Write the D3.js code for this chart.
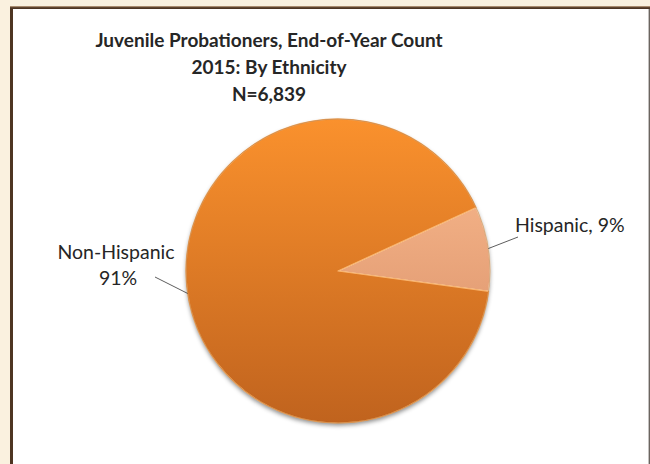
<!DOCTYPE html>
<html>
<head>
<meta charset="utf-8">
<script src="https://cdn.jsdelivr.net/npm/d3@7/dist/d3.min.js"></script>
<style>
  html, body { margin: 0; padding: 0; background: #FAF1DF; }
  svg { display: block; }
  text { font-family: Lato, "Open Sans", sans-serif; fill: #262626; }
</style>
</head>
<body>
<svg id="chart" width="650" height="464"></svg>
<script>
// Chart data
const categories = ["Hispanic", "Non-Hispanic"];
const percents = [9, 91];
const titleLines = ["Juvenile Probationers, End-of-Year Count", "2015: By Ethnicity", "N=6,839"];

const svg = d3.select("#chart");
const W = 650, H = 464;

// Outer frame: dark brown border around white chart area
svg.append("rect").attr("x", 0).attr("y", 0).attr("width", W).attr("height", H).attr("fill", "#FAF1DF");
svg.append("rect").attr("x", 10).attr("y", 6).attr("width", 640).attr("height", 470)
  .attr("fill", "#4E3522");
svg.append("rect").attr("x", 10).attr("y", 6).attr("width", 640).attr("height", 1.2)
  .attr("fill", "#A88B6E");
svg.append("rect").attr("x", 13).attr("y", 9).attr("width", 636).attr("height", 470)
  .attr("fill", "#FFFFFF");
svg.append("rect").attr("x", 648.6).attr("y", 9).attr("width", 1.4).attr("height", 460)
  .attr("fill", "#6B6560");

// Title
const title = svg.append("text").attr("text-anchor", "middle")
  .style("font-weight", "bold").style("font-size", "19px");
titleLines.forEach((t, i) => {
  title.append("tspan").attr("x", 269).attr("y", 47 + i * 27).text(t);
});

// Pie geometry
const cx = 338, cy = 271, R = 152;
const startDeg = 65.3;
const pie = d3.pie().sort(null).value(d => d)
  .startAngle(startDeg * Math.PI / 180)
  .endAngle((startDeg + 360) * Math.PI / 180);
const arcs = pie(percents);
const arc = d3.arc().innerRadius(0).outerRadius(R);

const defs = svg.append("defs");
const grads = [
  { id: "g0", top: "#FDBE92", bottom: "#D48A63" },
  { id: "g1", top: "#FA912D", bottom: "#C0631E" }
];
grads.forEach(g => {
  const lg = defs.append("linearGradient").attr("id", g.id)
    .attr("gradientUnits", "userSpaceOnUse")
    .attr("x1", 0).attr("y1", -R).attr("x2", 0).attr("y2", R);
  lg.append("stop").attr("offset", "0%").attr("stop-color", g.top);
  lg.append("stop").attr("offset", "100%").attr("stop-color", g.bottom);
});
const shadow = defs.append("filter").attr("id", "shadow")
  .attr("x", "-20%").attr("y", "-20%").attr("width", "140%").attr("height", "140%");
shadow.append("feDropShadow").attr("dx", 0).attr("dy", 2.5).attr("stdDeviation", 2)
  .attr("flood-color", "#000").attr("flood-opacity", 0.45);

const g = svg.append("g").attr("transform", `translate(${cx},${cy})`);
g.append("circle").attr("r", R).attr("fill", "#C87025").attr("filter", "url(#shadow)");
g.selectAll("path.slice").data(arcs).enter().append("path")
  .attr("class", "slice")
  .attr("d", arc)
  .attr("fill", (d, i) => `url(#${grads[i].id})`)
  .attr("stroke", (d, i) => i === 0 ? "#FCE3C4" : "#F9B46E")
  .attr("stroke-width", 1.2)
  .attr("stroke-linejoin", "round");
// soft dark rim
g.append("circle").attr("r", R).attr("fill", "none")
  .attr("stroke", "#9C5A22").attr("stroke-opacity", 0.5).attr("stroke-width", 0.8);

// Data labels with leader lines
const labelFont = "19.5px";
// Hispanic
const hisp = arcs[0];
const hMid = (hisp.startAngle + hisp.endAngle) / 2;
const hEdge = [cx + R * Math.sin(hMid), cy - R * Math.cos(hMid)];
svg.append("polyline")
  .attr("points", [[hEdge[0], hEdge[1]], [518, 237]].map(p => p.join(",")).join(" "))
  .attr("fill", "none").attr("stroke", "#333").attr("stroke-width", 0.8);
svg.append("text").attr("x", 515).attr("y", 232).style("font-size", labelFont)
  .text(`${categories[0]}, ${percents[0]}%`);

// Non-Hispanic
const non = arcs[1];
const nMid = (non.startAngle + non.endAngle) / 2;
const nEdge = [cx + R * Math.sin(nMid), cy - R * Math.cos(nMid)];
svg.append("polyline")
  .attr("points", [[155, 277], [nEdge[0], nEdge[1]]].map(p => p.join(",")).join(" "))
  .attr("fill", "none").attr("stroke", "#333").attr("stroke-width", 0.8);
const nt = svg.append("text").attr("text-anchor", "middle").style("font-size", labelFont);
nt.append("tspan").attr("x", 116).attr("y", 259).text(categories[1]);
nt.append("tspan").attr("x", 118).attr("y", 285).text(`${percents[1]}%`);
</script>
</body>
</html>
